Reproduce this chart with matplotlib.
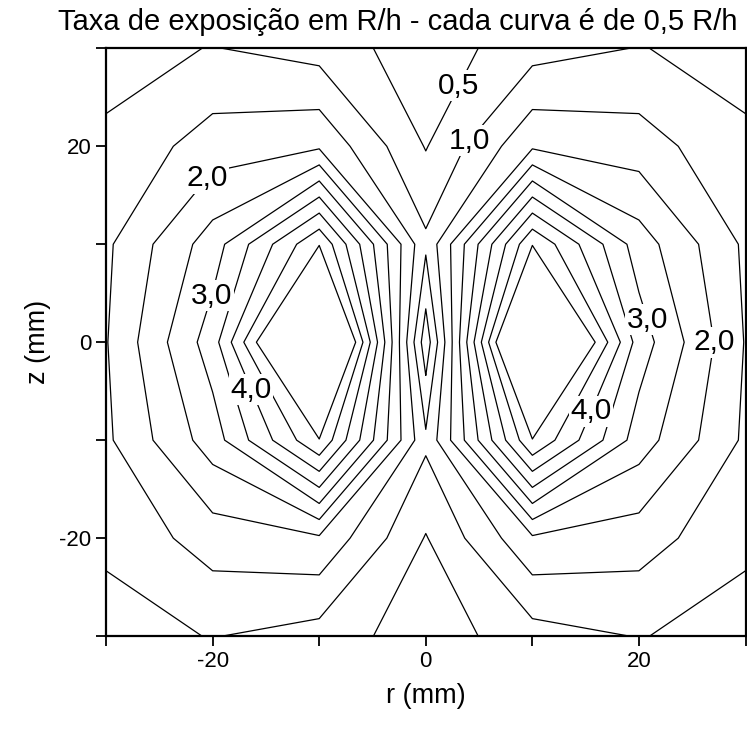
import matplotlib
matplotlib.use("Agg")
import matplotlib.pyplot as plt
from matplotlib.ticker import FixedLocator

plt.rcParams['font.family'] = ['Liberation Sans', 'DejaVu Sans']
plt.rcParams['axes.unicode_minus'] = False

# grid of the measurement (mm)
r_mm = [-30, -20, -10, 0, 10, 20, 30]
z_mm = [-30, -20, -10, 0, 10, 20, 30]

# exposure rate (R/h), rows follow z_mm, columns follow r_mm
taxa = [
    [0.82, 1.02, 0.80, 0.21, 0.80, 1.02, 0.82],
    [1.09, 1.74, 1.92, 0.47, 1.92, 1.74, 1.09],
    [1.41, 2.75, 4.97, 1.10, 4.97, 2.75, 1.41],
    [1.47, 3.26, 7.50, 0.19, 7.50, 3.26, 1.47],
    [1.41, 2.75, 4.97, 1.10, 4.97, 2.75, 1.41],
    [1.09, 1.74, 1.92, 0.47, 1.92, 1.74, 1.09],
    [0.82, 1.02, 0.80, 0.21, 0.80, 1.02, 0.82],
]

niveis_rotulo = [0.5, 1.0, 2.0, 3.0, 4.0]
niveis_outros = [1.5, 2.5, 3.5, 4.5, 5.0]
pos_rotulo = [(3.1, 26.2), (4.2, 20.5), (-20.4, 16.6), (27.1, 0.0),
              (-20.0, 4.7), (21.1, 2.4), (-16.3, -4.8), (16.1, -7.3)]

fig = plt.figure(figsize=(7.47, 7.32), dpi=100)
ax = fig.add_axes([0.142, 0.131, 0.856, 0.803])

ax.contour(r_mm, z_mm, taxa, levels=niveis_outros, colors='black', linewidths=0.9)
cs = ax.contour(r_mm, z_mm, taxa, levels=niveis_rotulo, colors='black', linewidths=0.9)
textos = ax.clabel(cs, manual=pos_rotulo, inline=False,
                   fontsize=21.5, fmt=lambda v: ('%.1f' % v).replace('.', ','))
for t in textos:
    t.set_rotation(0)
    t.set_bbox(dict(facecolor='white', edgecolor='none', pad=1))

ax.set_xlim(-30, 30)
ax.set_ylim(-30, 30)
ax.xaxis.set_major_locator(FixedLocator([-20, 0, 20]))
ax.xaxis.set_minor_locator(FixedLocator([-30, -10, 10, 30]))
ax.yaxis.set_major_locator(FixedLocator([-20, 0, 20]))
ax.yaxis.set_minor_locator(FixedLocator([-30, -10, 10, 30]))
ax.tick_params(which='both', direction='out', length=7, width=1.3, labelsize=16)
for s in ax.spines.values():
    s.set_linewidth(1.6)

ax.set_xlabel('r (mm)', fontsize=19.5, labelpad=8)
ax.set_ylabel('z (mm)', fontsize=19.5, labelpad=6)
fig.text(0.532, 1 - 30 / 732, 'Taxa de exposição em R/h - cada curva é de 0,5 R/h',
         fontsize=21, ha='center', va='baseline')

fig.savefig('out.png', dpi=100)
